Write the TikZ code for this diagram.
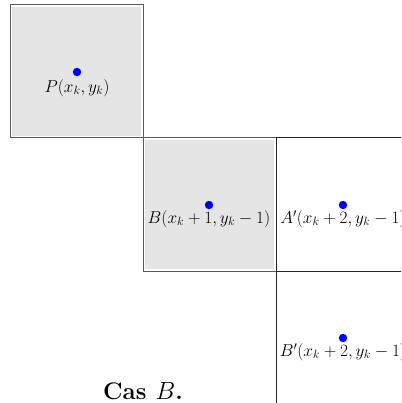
\documentclass[tikz,border=0pt]{standalone}
\begin{document}
\begin{tikzpicture}[x=1pt,y=-1pt,
  cellfill/.style={fill=black!10},
  cellline/.style={draw=black!65,line width=1pt},
  darkline/.style={draw=black!85,line width=1pt},
  pt/.style={fill=blue},
  lbl/.style={inner sep=0pt,font=\fontsize{18}{21}\selectfont},
  title/.style={inner sep=0pt,font=\fontsize{24}{28}\selectfont\bfseries}]
\useasboundingbox (0,0) rectangle (401,403);
\clip (0,0) rectangle (401,403);
% cell P
\fill[cellfill] (12,7) rectangle (141,136);
\draw[cellline] (10,5) rectangle (143,138);
% cell B
\fill[cellfill] (145,140) rectangle (274,269);
\draw[cellline] (143,138) rectangle (276,271);
% grid lines
\draw[darkline] (276,138) -- (401,138);
\draw[darkline] (276,138) -- (276,403);
\draw[darkline] (276,271) -- (401,271);
% points
\fill[pt] (77,72) circle (4.2);
\fill[pt] (209,205) circle (4.2);
\fill[pt] (343,205) circle (4.2);
\fill[pt] (343,338) circle (4.2);
% labels
\node[lbl] (p) at (77,88) {$P(x_k,y_k)$};
\node[lbl] (b) at (209,219) {$B(x_k+1,y_k-1)$};
\node[lbl] (a) at (343,219) {$A'(x_k+2,y_k-1)$};
\node[lbl] (bp) at (343,352) {$B'(x_k+2,y_k-1)$};
\node[title] (cas) at (143,391) {Cas $B$.};
\end{tikzpicture}
\end{document}
